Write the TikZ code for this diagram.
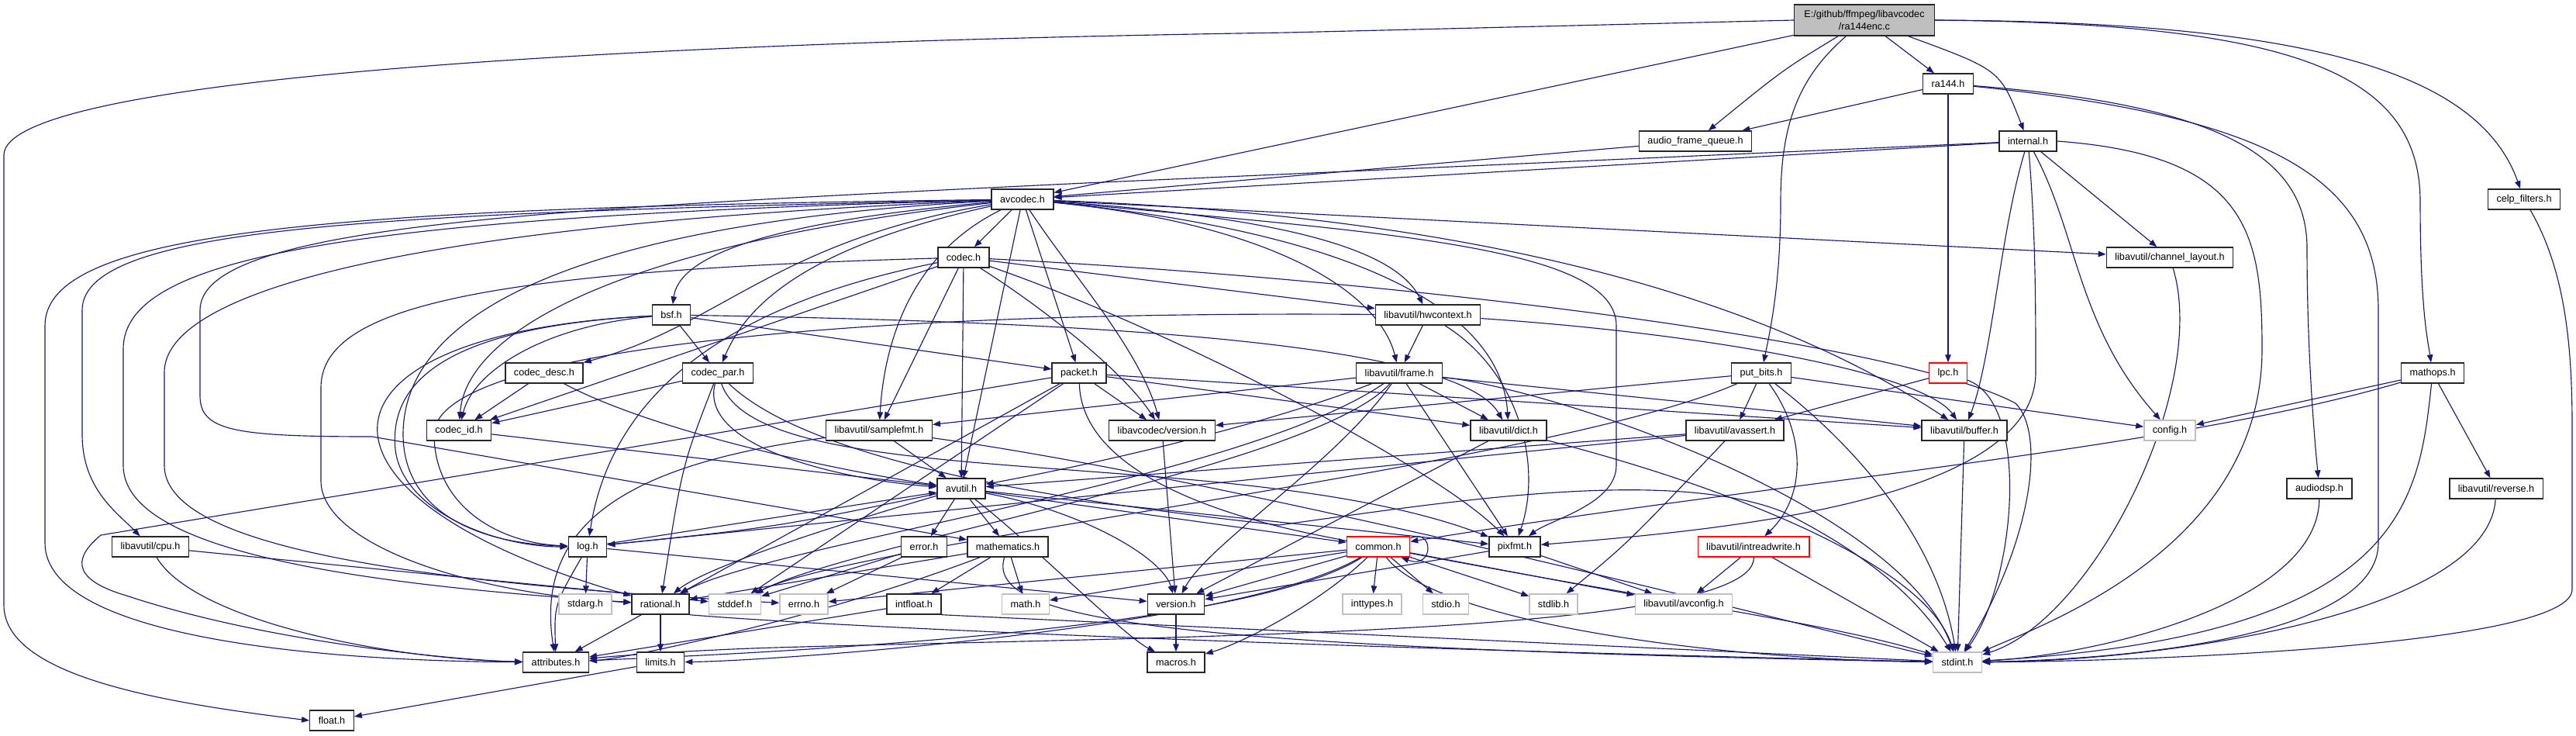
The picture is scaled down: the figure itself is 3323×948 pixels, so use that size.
\documentclass[tikz,border=0pt]{standalone}
\usepackage{fontspec}
\setmainfont{Liberation Sans}
\usetikzlibrary{arrows.meta}
\definecolor{edgeblue}{RGB}{25,25,112}
\definecolor{boxgray}{RGB}{191,191,191}
\pgfdeclarelayer{edges}
\pgfsetlayers{edges,main}

\begin{document}
\begin{tikzpicture}[
    x=0.02cm, y=-0.02cm,
    hdr/.style={rectangle, draw=black!85, line width=0.8pt, fill=white,
                minimum height=0.52cm, inner xsep=0.22cm, inner ysep=0pt,
                font=\fontsize{7.2}{8.6}\selectfont},
    syshdr/.style={hdr, draw=boxgray},
    cuthdr/.style={hdr, draw=red},
    srcfile/.style={hdr, fill=boxgray, align=center, minimum width=3.62cm, minimum height=0.8cm},
    dep/.style={-{Triangle[length=0.2cm, width=0.15cm]}, draw=edgeblue, line width=0.65pt}
  ]
    \useasboundingbox (0,0) rectangle (3323,948);

    \node[srcfile] (ra144enc) at (2405,26) {E:/github/ffmpeg/libavcodec\\/ra144enc.c};
    \node[hdr] (ra144) at (2513,108) {ra144.h};
    \node[hdr] (afq) at (2187,182) {audio\_frame\_queue.h};
    \node[hdr] (internal) at (2616,182) {internal.h};
    \node[hdr] (avcodec) at (1319,257) {avcodec.h};
    \node[hdr] (celp) at (3256,257) {celp\_filters.h};
    \node[hdr] (codec) at (1243,332) {codec.h};
    \node[hdr] (chlayout) at (2799,332) {libavutil/channel\_layout.h};
    \node[hdr] (bsf) at (866,406) {bsf.h};
    \node[hdr] (hwctx) at (1842,406) {libavutil/hwcontext.h};
    \node[hdr] (codecdesc) at (702,481) {codec\_desc.h};
    \node[hdr] (codecpar) at (926,481) {codec\_par.h};
    \node[hdr] (packet) at (1392,481) {packet.h};
    \node[hdr] (frame) at (1805,481) {libavutil/frame.h};
    \node[hdr] (putbits) at (2272,481) {put\_bits.h};
    \node[cuthdr] (lpc) at (2513,481) {lpc.h};
    \node[hdr] (mathops) at (3138,481) {mathops.h};
    \node[hdr] (codecid) at (592,555) {codec\_id.h};
    \node[hdr] (samplefmt) at (1134,555) {libavutil/samplefmt.h};
    \node[hdr] (lavcver) at (1499,555) {libavcodec/version.h};
    \node[hdr] (dict) at (1946,555) {libavutil/dict.h};
    \node[hdr] (avassert) at (2238,555) {libavutil/avassert.h};
    \node[hdr] (buffer) at (2534,555) {libavutil/buffer.h};
    \node[syshdr] (config) at (2799,555) {config.h};
    \node[hdr] (avutil) at (1240,630) {avutil.h};
    \node[hdr] (audiodsp) at (2992,630) {audiodsp.h};
    \node[hdr] (reverse) at (3220,630) {libavutil/reverse.h};
    \node[hdr] (cpu) at (194,705) {libavutil/cpu.h};
    \node[hdr] (log) at (758,705) {log.h};
    \node[hdr] (error) at (1192,705) {error.h};
    \node[hdr] (mathem) at (1300,705) {mathematics.h};
    \node[cuthdr] (common) at (1778,705) {common.h};
    \node[hdr] (pixfmt) at (1954,705) {pixfmt.h};
    \node[cuthdr] (intrw) at (2262,705) {libavutil/intreadwrite.h};
    \node[syshdr] (stdarg) at (755,779) {stdarg.h};
    \node[hdr] (rational) at (852,779) {rational.h};
    \node[syshdr] (stddef) at (948,779) {stddef.h};
    \node[syshdr] (errno) at (1037,779) {errno.h};
    \node[hdr] (intfloat) at (1179,779) {intfloat.h};
    \node[syshdr] (mathh) at (1323,779) {math.h};
    \node[hdr] (version) at (1517,779) {version.h};
    \node[syshdr] (inttypes) at (1770,779) {inttypes.h};
    \node[syshdr] (stdio) at (1865,779) {stdio.h};
    \node[syshdr] (stdlib) at (2004,779) {stdlib.h};
    \node[syshdr] (avconfig) at (2172,779) {libavutil/avconfig.h};
    \node[hdr] (attrs) at (717,854) {attributes.h};
    \node[hdr] (limits) at (852,854) {limits.h};
    \node[hdr] (macros) at (1517,854) {macros.h};
    \node[syshdr] (stdint) at (2525,854) {stdint.h};
    \node[hdr] (float) at (428,929) {float.h};

    \begin{pgfonlayer}{edges}
    \draw[dep] (ra144enc.west) -- (1660,42) .. controls (800,55) and (5,100) .. (5,200) -- (5,780) .. controls (5,870) and (200,905) .. (float.west);
    \draw[dep] (ra144enc) -- (avcodec);
    \draw[dep] (ra144enc) .. controls (2300,90) .. (afq);
    \draw[dep] (ra144enc) .. controls (2320,100) and (2297,160) .. (2297,260) .. controls (2297,360) and (2285,420) .. (putbits);
    \draw[dep] (ra144enc) -- (ra144);
    \draw[dep] (ra144enc) .. controls (2580,90) .. (internal);
    \draw[dep] (ra144enc.east) .. controls (2950,30) and (3122,90) .. (3122,260) .. controls (3122,400) and (3132,440) .. (mathops);
    \draw[dep] (ra144enc.east) .. controls (3000,28) and (3200,100) .. (celp);

    \draw[dep] (ra144) -- (afq);
    \draw[dep] (ra144) -- (lpc);
    \draw[dep] (ra144) .. controls (2860,135) and (2976,200) .. (2976,320) .. controls (2976,450) and (2985,560) .. (audiodsp);
    \draw[dep] (ra144) .. controls (2930,150) and (3068,230) .. (3068,400) -- (3068,700) .. controls (3068,820) and (2750,850) .. (stdint);

    \draw[dep] (afq) -- (avcodec);
    \draw[dep] (internal) -- (avcodec);
    \draw[dep] (internal) -- (1400,236) .. controls (700,270) and (258,290) .. (258,400) -- (258,510) .. controls (258,555) and (300,563) .. (480,563) -- (mathem);
    \draw[dep] (internal) -- (chlayout);
    \draw[dep] (internal) .. controls (2580,300) and (2570,460) .. (buffer);
    \draw[dep] (internal) .. controls (2626,300) and (2626,400) .. (2626,480) .. controls (2626,650) and (2200,685) .. (pixfmt);
    \draw[dep] (internal) .. controls (2680,300) and (2679,420) .. (config);
    \draw[dep] (internal.east) .. controls (2900,200) and (2918,300) .. (2918,450) .. controls (2918,700) and (2650,800) .. (stdint);

    \draw[dep] (avcodec) -- (codec);
    \draw[dep] (avcodec) .. controls (950,290) and (875,340) .. (bsf);
    \draw[dep] (avcodec) .. controls (1000,310) and (930,420) .. (codecdesc);
    \draw[dep] (avcodec) .. controls (1030,320) and (960,400) .. (codecpar);
    \draw[dep] (avcodec) .. controls (760,320) and (600,440) .. (codecid);
    \draw[dep] (avcodec) .. controls (1170,330) and (1140,450) .. (samplefmt);
    \draw[dep] (avcodec) -- (avutil);
    \draw[dep] (avcodec) -- (packet);
    \draw[dep] (avcodec) .. controls (1380,350) and (1470,450) .. (lavcver);
    \draw[dep] (avcodec) .. controls (700,290) and (520,420) .. (520,560) .. controls (520,650) and (600,700) .. (log);
    \draw[dep] (avcodec) .. controls (1800,300) and (2085,320) .. (2085,420) -- (2085,600) .. controls (2085,650) and (2000,670) .. (pixfmt);
    \draw[dep] (avcodec) .. controls (1750,300) and (1937,400) .. (dict);
    \draw[dep] (avcodec) .. controls (1650,290) and (1780,380) .. (frame);
    \draw[dep] (avcodec) .. controls (1650,280) and (1800,320) .. (hwctx);
    \draw[dep] (avcodec) -- (chlayout);
    \draw[dep] (avcodec) .. controls (1950,280) and (2300,400) .. (buffer);
    \draw[dep] (avcodec) .. controls (500,275) and (106,290) .. (106,400) -- (106,560) .. controls (106,630) and (150,660) .. (cpu);
    \draw[dep] (avcodec) .. controls (400,268) and (58,300) .. (58,420) -- (58,700) .. controls (58,820) and (400,852) .. (attrs);
    \draw[dep] (avcodec) .. controls (450,280) and (159,330) .. (159,450) -- (159,600) .. controls (159,700) and (400,750) .. (rational);
    \draw[dep] (avcodec) .. controls (500,290) and (212,380) .. (212,480) -- (212,600) .. controls (212,700) and (500,750) .. (errno);

    \draw[dep] (codec) -- (avutil);
    \draw[dep] (codec) .. controls (1200,420) .. (samplefmt);
    \draw[dep] (codec) -- (codecid);
    \draw[dep] (codec) .. controls (1350,400) and (1450,480) .. (lavcver);
    \draw[dep] (codec) -- (hwctx);
    \draw[dep] (codec) .. controls (1500,420) and (1850,600) .. (pixfmt);
    \draw[dep] (codec) .. controls (950,390) and (790,500) .. (log);
    \draw[dep] (codec) .. controls (600,350) and (414,400) .. (414,500) -- (414,620) .. controls (414,700) and (600,765) .. (rational);
    \draw[dep] (codec) .. controls (1800,360) and (2450,440) .. (2600,520) .. controls (2640,560) and (2620,700) .. (stdint);

    \draw[dep] (bsf) -- (codecpar);
    \draw[dep] (bsf) -- (packet);
    \draw[dep] (bsf) .. controls (1400,415) and (1880,440) .. (dict);
    \draw[dep] (bsf) .. controls (700,420) and (610,480) .. (codecid);
    \draw[dep] (bsf) .. controls (600,420) and (500,480) .. (510,580) .. controls (520,660) and (640,705) .. (log);
    \draw[dep] (bsf) .. controls (380,430) and (370,640) .. (rational);

    \draw[dep] (codecdesc) -- (codecid);
    \draw[dep] (codecdesc) .. controls (850,560) and (1100,610) .. (avutil);
    \draw[dep] (codecid) -- (avutil);
    \draw[dep] (codecpar) -- (codecid);
    \draw[dep] (codecpar) .. controls (900,580) and (1100,620) .. (avutil);
    \draw[dep] (codecpar) .. controls (880,600) .. (rational);
    \draw[dep] (codecpar) .. controls (980,640) and (1600,570) .. (pixfmt);
    \draw[dep] (codecpar) .. controls (1050,600) and (1400,650) .. (1650,677) .. controls (1850,650) and (2150,600) .. (2300,660) .. controls (2420,720) and (2480,780) .. (stdint);

    \draw[dep] (packet) -- (lavcver);
    \draw[dep] (packet) -- (130,690) .. controls (100,715) and (85,745) .. (163,768) .. controls (350,830) and (600,852) .. (attrs);
    \draw[dep] (packet) -- (rational);
    \draw[dep] (packet) -- (stddef);
    \draw[dep] (packet) -- (buffer);
    \draw[dep] (packet) -- (dict);
    \draw[dep] (packet) .. controls (1395,600) and (1550,660) .. (1700,690) .. controls (2100,770) and (2350,800) .. (stdint);

    \draw[dep] (samplefmt) -- (avutil);
    \draw[dep] (samplefmt) .. controls (800,600) and (690,680) .. (attrs);
    \draw[dep] (samplefmt) .. controls (1600,620) and (2300,800) .. (stdint);
    \draw[dep] (lavcver) -- (version);

    \draw[dep] (avutil) -- (error);
    \draw[dep] (avutil) -- (mathem);
    \draw[dep] (avutil) .. controls (1000,680) .. (log);
    \draw[dep] (avutil) .. controls (1000,700) and (900,740) .. (rational);
    \draw[dep] (avutil) .. controls (1400,660) and (1500,720) .. (version);
    \draw[dep] (avutil) .. controls (1330,700) and (1450,820) .. (macros);
    \draw[dep] (avutil) -- (common);
    \draw[dep] (avutil) -- (pixfmt);

    \draw[dep] (log) -- (stdarg);
    \draw[dep] (log) .. controls (715,780) .. (attrs);
    \draw[dep] (log) -- (avutil);
    \draw[dep] (log) -- (version);

    \draw[dep] (error) -- (errno);
    \draw[dep] (error) -- (stddef);
    \draw[dep] (mathem) -- (mathh);
    \draw[dep] (mathem) -- (intfloat);
    \draw[dep] (mathem) -- (rational);
    \draw[dep] (mathem) .. controls (1050,800) and (800,850) .. (attrs);
    \draw[dep] (mathem) .. controls (1270,800) and (1500,835) .. (stdint);

    \draw[dep] (rational) -- (limits);
    \draw[dep] (rational) -- (attrs);
    \draw[dep] (rational.south east) .. controls (1100,810) and (1700,835) .. (stdint);
    \draw[dep] (intfloat) -- (attrs);
    \draw[dep] (intfloat.south east) -- (stdint);
    \draw[dep] (version) -- (macros);
    \draw[dep] (limits) -- (float);
    \draw[dep] (cpu) .. controls (250,800) and (500,850) .. (attrs);
    \draw[dep] (cpu) -- (stddef);

    \draw[dep] (frame) -- (dict);
    \draw[dep] (frame) -- (pixfmt);
    \draw[dep] (frame) -- (buffer);
    \draw[dep] (frame) -- (samplefmt);
    \draw[dep] (frame) .. controls (1600,560) and (1350,610) .. (avutil);
    \draw[dep] (frame) .. controls (1600,620) and (1000,700) .. (rational);
    \draw[dep] (frame) .. controls (1700,600) and (1100,700) .. (stddef);
    \draw[dep] (frame) .. controls (1720,600) and (1560,700) .. (version);
    \draw[dep] (frame) .. controls (2000,500) and (2450,650) .. (stdint);

    \draw[dep] (hwctx) -- (frame);
    \draw[dep] (hwctx) .. controls (2200,430) and (2480,480) .. (buffer);
    \draw[dep] (hwctx) .. controls (1960,480) and (1990,600) .. (pixfmt);
    \draw[dep] (hwctx) .. controls (1100,400) and (560,450) .. (560,560) .. controls (560,650) and (640,700) .. (log);

    \draw[dep] (dict) -- (version);
    \draw[dep] (dict) .. controls (2200,620) and (2480,720) .. (stdint);
    \draw[dep] (putbits) -- (avassert);
    \draw[dep] (putbits) .. controls (2330,560) and (2330,640) .. (intrw);
    \draw[dep] (putbits) -- (config);
    \draw[dep] (putbits) .. controls (2400,580) and (2500,700) .. (stdint);
    \draw[dep] (putbits) -- (lavcver);
    \draw[dep] (putbits) .. controls (2000,600) and (1100,700) .. (stddef);
    \draw[dep] (avassert) .. controls (2100,700) .. (stdlib);
    \draw[dep] (avassert) -- (avutil);
    \draw[dep] (avassert) -- (log);
    \draw[dep] (lpc) -- (avassert);
    \draw[dep] (lpc) .. controls (2620,520) and (2600,750) .. (stdint);
    \draw[dep] (mathops) -- (config);
    \draw[dep] (mathops) -- (reverse);
    \draw[dep] (mathops) .. controls (3120,650) and (3100,820) .. (stdint);
    \draw[dep] (mathops) .. controls (2800,580) and (2300,620) .. (common);

    \draw[dep] (chlayout) .. controls (2850,500) and (2700,800) .. (stdint);
    \draw[dep] (celp) .. controls (3310,350) and (3318,450) .. (3318,550) -- (3318,760) .. controls (3318,830) and (2800,852) .. (stdint);
    \draw[dep] (audiodsp) .. controls (2990,780) and (2700,845) .. (stdint);
    \draw[dep] (reverse) .. controls (3210,790) and (2800,852) .. (stdint);
    \draw[dep] (buffer) -- (stdint);

    \draw[dep] (common) -- (inttypes);
    \draw[dep] (common) -- (stdio);
    \draw[dep] (common) -- (stdlib);
    \draw[dep] (common) -- (avconfig);
    \draw[dep] (common) -- (errno);
    \draw[dep] (common) -- (mathh);
    \draw[dep] (common) -- (version);
    \draw[dep] (common) .. controls (1700,780) and (1600,830) .. (macros);
    \draw[dep] (common) .. controls (1600,810) and (1000,852) .. (limits);
    \draw[dep] (common) .. controls (1600,820) and (900,845) .. (attrs);
    \draw[dep] (common) .. controls (1850,800) and (2200,850) .. (stdint);
    \draw[dep] (common.15) .. controls (1850,680) and (1850,735) .. (common.-25);

    \draw[dep] (pixfmt) -- (avconfig);
    \draw[dep] (pixfmt) -- (version);
    \draw[dep] (intrw) -- (avconfig);
    \draw[dep] (intrw) -- (stdint);
    \draw[dep] (intrw) .. controls (2265,820) and (1500,820) .. (1000,835) .. controls (900,838) and (800,845) .. (attrs);
    \end{pgfonlayer}
\end{tikzpicture}
\end{document}
